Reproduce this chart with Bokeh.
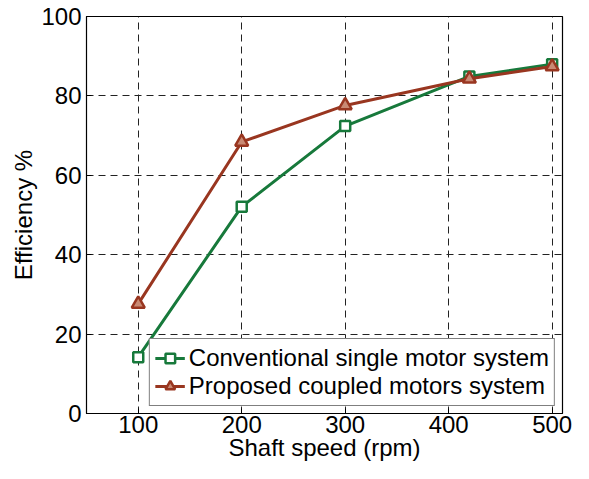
from bokeh.plotting import figure
from bokeh.models import Range1d, FixedTicker, Legend, LegendItem
from bokeh.embed import file_html
from bokeh.resources import INLINE

speed = [100, 200, 300, 420, 500]
conventional = [14.2, 52.1, 72.4, 84.9, 88.0]
proposed = [27.6, 68.4, 77.6, 84.3, 87.4]
x_ticks = [100, 200, 300, 400, 500]
y_ticks = [0, 20, 40, 60, 80, 100]

GREEN = "#17793b"
RED = "#993620"
FONT = "Liberation Sans"

p = figure(width=573, height=463, output_backend="svg", toolbar_location=None,
           x_range=Range1d(50, 510), y_range=Range1d(0, 100),
           min_border_left=86, min_border_right=11, min_border_top=16, min_border_bottom=50)
p.outline_line_color = "black"
p.outline_line_width = 1.2
p.background_fill_color = "white"
p.border_fill_color = "white"

for ax in (p.xaxis[0], p.yaxis[0]):
    ax.major_tick_in = 5
    ax.major_tick_out = 0
    ax.minor_tick_line_color = None
    ax.axis_line_color = "black"
    ax.major_tick_line_color = "black"
    ax.major_label_text_font = FONT
    ax.major_label_text_font_size = "24px"
    ax.major_label_text_color = "black"
    ax.axis_label_text_font = FONT
    ax.axis_label_text_font_size = "24px"
    ax.axis_label_text_font_style = "normal"
    ax.axis_label_text_color = "black"

p.xaxis.ticker = FixedTicker(ticks=x_ticks)
p.yaxis.ticker = FixedTicker(ticks=y_ticks)
p.xaxis.axis_label = "Shaft speed (rpm)"
p.yaxis.axis_label = "Efficiency %"
p.xaxis.major_label_standoff = 2
p.yaxis.major_label_standoff = 5
p.xaxis.axis_label_standoff = -2
p.yaxis.axis_label_standoff = 1

for g in (p.xgrid[0], p.ygrid[0]):
    g.grid_line_color = "#222222"
    g.grid_line_dash = "7 5"
    g.grid_line_width = 1

l1 = p.line(speed, conventional, line_color=GREEN, line_width=3)
s1 = p.scatter(speed, conventional, marker="square", size=10, line_color=GREEN,
               line_width=2.5, fill_color="white")
l2 = p.line(speed, proposed, line_color=RED, line_width=3)
s2 = p.scatter(speed, proposed, marker="triangle", size=13, line_color=RED,
               line_width=2.5, fill_color="#c98a74")

legend = Legend(items=[
    LegendItem(label="Conventional single motor system", renderers=[l1, s1]),
    LegendItem(label="Proposed coupled motors system", renderers=[l2, s2]),
], location="bottom_right")
legend.label_text_font = FONT
legend.label_text_font_size = "24px"
legend.label_text_color = "black"
legend.border_line_color = "black"
legend.border_line_width = 1
legend.background_fill_alpha = 1
legend.glyph_width = 30
legend.glyph_height = 24
legend.label_standoff = 4
legend.label_height = 27
legend.spacing = 0
legend.padding = 5
legend.margin = 7
p.add_layout(legend)

open("out.html", "w").write(file_html(p, INLINE))
